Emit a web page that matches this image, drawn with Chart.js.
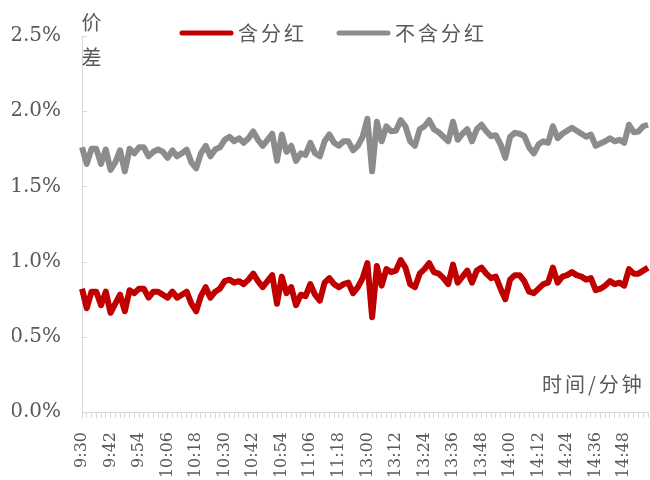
<!DOCTYPE html>
<html>
<head>
<meta charset="utf-8">
<script src="https://cdn.jsdelivr.net/npm/chart.js@4.4.1/dist/chart.umd.min.js"></script>
<style>
  html, body { margin: 0; padding: 0; background: #fff; }
  #wrap { width: 650px; height: 480px; position: relative; }
</style>
</head>
<body>
<div id="wrap"><canvas id="spreadChart"></canvas></div>
<script>
// 价差走势(含分红 / 不含分红),每2分钟一个点

const seriesNames = ['含分红', '不含分红'];
const yTicks = [0, 0.5, 1.0, 1.5, 2.0, 2.5];

// 含分红 (%)
const withDividend = [
  0.82, 0.69, 0.80, 0.80, 0.71, 0.80, 0.66, 0.72, 0.78, 0.67,
  0.81, 0.79, 0.82, 0.82, 0.76, 0.80, 0.80, 0.78, 0.76, 0.80,
  0.76, 0.78, 0.80, 0.72, 0.67, 0.77, 0.83, 0.76, 0.80, 0.82,
  0.87, 0.88, 0.86, 0.87, 0.85, 0.88, 0.92, 0.87, 0.83, 0.87,
  0.91, 0.72, 0.90, 0.79, 0.83, 0.71, 0.78, 0.77, 0.85, 0.78,
  0.74, 0.86, 0.89, 0.85, 0.83, 0.85, 0.86, 0.79, 0.83, 0.89,
  0.99, 0.63, 0.97, 0.84, 0.95, 0.93, 0.94, 1.01, 0.96, 0.85,
  0.83, 0.92, 0.95, 0.99, 0.93, 0.92, 0.89, 0.85, 0.98, 0.86,
  0.90, 0.94, 0.86, 0.94, 0.96, 0.92, 0.89, 0.90, 0.82, 0.75,
  0.88, 0.91, 0.91, 0.87, 0.80, 0.79, 0.82, 0.85, 0.86, 0.96,
  0.86, 0.90, 0.91, 0.93, 0.91, 0.90, 0.88, 0.89, 0.81, 0.82,
  0.84, 0.87, 0.85, 0.86, 0.84, 0.95, 0.92, 0.92, 0.94, 0.96
];

// 不含分红 (%)
const withoutDividend = [
  1.76, 1.65, 1.75, 1.75, 1.65, 1.745, 1.61, 1.66, 1.74, 1.60,
  1.75, 1.72, 1.76, 1.76, 1.70, 1.73, 1.745, 1.73, 1.69, 1.74,
  1.70, 1.72, 1.745, 1.66, 1.62, 1.72, 1.77, 1.70, 1.745, 1.76,
  1.81, 1.83, 1.80, 1.82, 1.79, 1.82, 1.865, 1.81, 1.77, 1.81,
  1.85, 1.67, 1.845, 1.73, 1.77, 1.67, 1.72, 1.71, 1.79, 1.72,
  1.70, 1.80, 1.845, 1.79, 1.77, 1.80, 1.80, 1.74, 1.77, 1.83,
  1.95, 1.60, 1.93, 1.80, 1.90, 1.867, 1.87, 1.94, 1.90, 1.80,
  1.77, 1.88, 1.90, 1.94, 1.88, 1.86, 1.83, 1.80, 1.93, 1.81,
  1.85, 1.88, 1.80, 1.88, 1.91, 1.867, 1.834, 1.84, 1.78, 1.69,
  1.83, 1.856, 1.85, 1.834, 1.76, 1.72, 1.78, 1.80, 1.79, 1.90,
  1.82, 1.85, 1.87, 1.89, 1.87, 1.85, 1.83, 1.845, 1.77, 1.785,
  1.80, 1.82, 1.80, 1.81, 1.79, 1.91, 1.86, 1.865, 1.90, 1.91
];

// 时间轴:上午 9:30-11:28,下午 13:00-14:58
function buildTimes(h, m, count, step) {
  const out = [];
  for (let i = 0; i < count; i++) {
    const t = h * 60 + m + i * step;
    out.push(Math.floor(t / 60) + ':' + String(t % 60).padStart(2, '0'));
  }
  return out;
}
const timeLabels = buildTimes(9, 30, 60, 2).concat(buildTimes(13, 0, 60, 2));
const labelEvery = 6;

const axisColor = '#d9d9d9';
const textColor = '#595959';

// 图例、轴标题、纵轴内侧刻度
const extras = {
  id: 'extras',
  afterDraw(chart) {
    const ctx = chart.ctx;
    const area = chart.chartArea;
    const yScale = chart.scales.y;
    ctx.save();

    ctx.strokeStyle = axisColor;
    ctx.lineWidth = 1;
    yTicks.forEach(v => {
      const py = Math.round(yScale.getPixelForValue(v)) + 0.5;
      ctx.beginPath();
      ctx.moveTo(area.left, py);
      ctx.lineTo(area.left + 5, py);
      ctx.stroke();
    });

    ctx.font = '20px "Noto Sans CJK SC"';
    ctx.textBaseline = 'middle';
    ctx.fillStyle = textColor;
    ctx.letterSpacing = '3px';

    const legendPos = [180, 337];
    chart.data.datasets.forEach((ds, i) => {
      const x = legendPos[i];
      ctx.strokeStyle = ds.borderColor;
      ctx.lineWidth = 5;
      ctx.lineCap = 'round';
      ctx.beginPath();
      ctx.moveTo(x + 2, 33);
      ctx.lineTo(x + 51, 33);
      ctx.stroke();
      ctx.textAlign = 'left';
      ctx.fillText(ds.label, x + 58, 33);
    });

    ctx.textAlign = 'center';
    ctx.fillText('价', 93, 22);
    ctx.fillText('差', 93, 57);

    ctx.textAlign = 'left';
    ctx.fillText('时间/分钟', 542, 384);
    ctx.restore();
  }
};

new Chart(document.getElementById('spreadChart'), {
  type: 'line',
  data: {
    labels: timeLabels,
    datasets: [
      {
        label: seriesNames[0],
        data: withDividend,
        borderColor: '#c00000',
        borderWidth: 6,
        pointRadius: 0,
        tension: 0,
        borderJoinStyle: 'round'
      },
      {
        label: seriesNames[1],
        data: withoutDividend,
        borderColor: '#8c8c8c',
        borderWidth: 6,
        pointRadius: 0,
        tension: 0,
        borderJoinStyle: 'round'
      }
    ]
  },
  options: {
    responsive: true,
    maintainAspectRatio: false,
    animation: false,
    layout: { padding: { top: 36, left: 12, right: 2, bottom: 0 } },
    plugins: {
      legend: { display: false },
      tooltip: { enabled: false }
    },
    scales: {
      x: {
        type: 'category',
        offset: false,
        border: { color: axisColor },
        grid: {
          display: true,
          drawOnChartArea: false,
          drawTicks: true,
          tickLength: 6,
          color: axisColor
        },
        ticks: {
          autoSkip: false,
          maxRotation: 90,
          minRotation: 90,
          padding: 14,
          color: textColor,
          font: { family: '"DejaVu Serif"', size: 16 },
          callback: function(value, index) {
            return index % labelEvery === 0 ? timeLabels[index] : '';
          }
        },
        afterFit: function(scale) {
          // 固定横轴高度,去掉旋转标签带来的左右留白
          scale.paddingLeft = 0;
          scale.paddingRight = 0;
          scale.height = 68;
        }
      },
      y: {
        min: 0,
        max: 2.5,
        border: { color: axisColor },
        grid: { display: true, drawOnChartArea: false, drawTicks: false },
        ticks: {
          stepSize: 0.5,
          padding: 21,
          color: textColor,
          font: { family: '"DejaVu Serif"', size: 20 },
          callback: function(value) {
            return value.toFixed(1) + '%';
          }
        },
        afterFit: function(scale) {
          scale.width = 70;
          scale.paddingTop = 0;
          scale.paddingBottom = 0;
        }
      }
    }
  },
  plugins: [extras]
});
</script>
</body>
</html>
